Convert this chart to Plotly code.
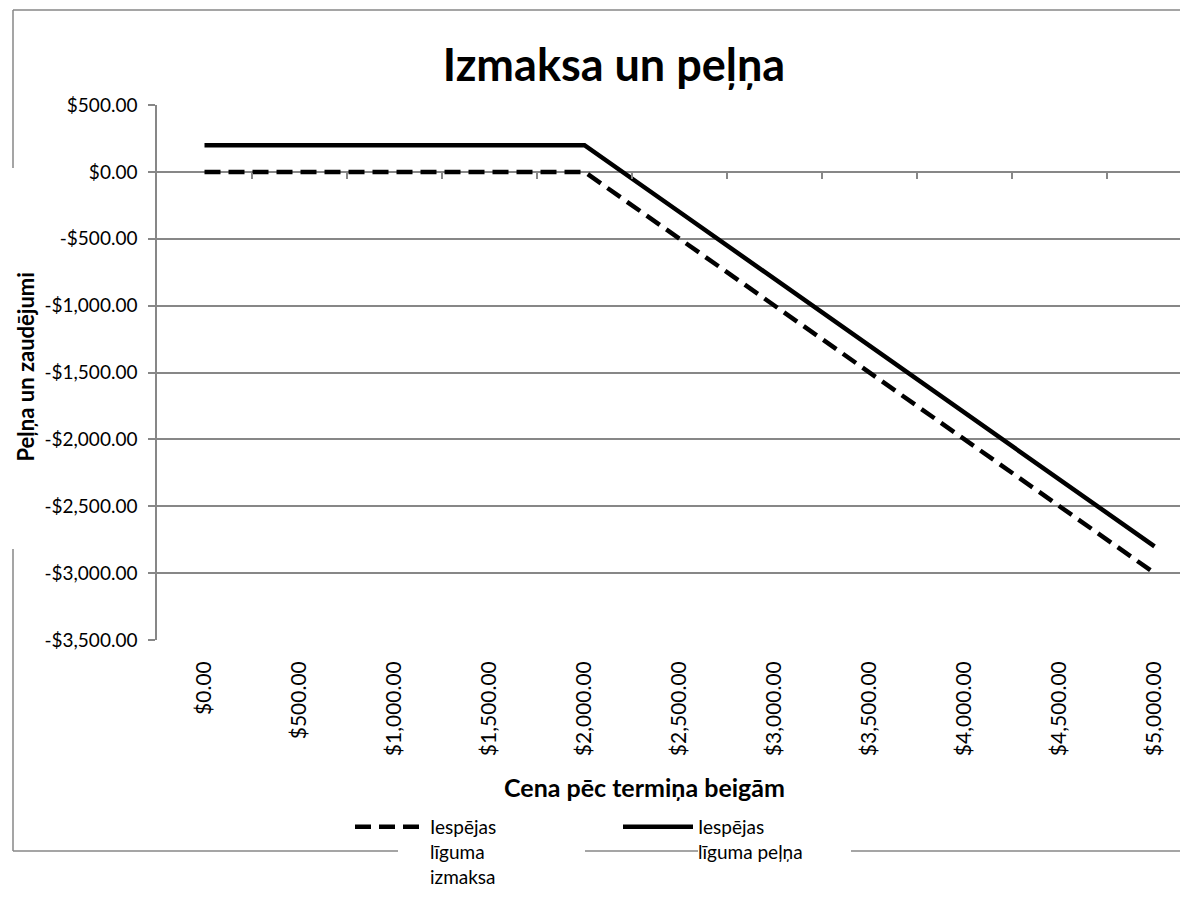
import plotly.graph_objects as go

# ---- data ----
price_labels = ["$0.00", "$500.00", "$1,000.00", "$1,500.00", "$2,000.00", "$2,500.00",
                "$3,000.00", "$3,500.00", "$4,000.00", "$4,500.00", "$5,000.00"]
option_cost = [0, 0, 0, 0, 0, -500, -1000, -1500, -2000, -2500, -3000]
option_profit = [200, 200, 200, 200, 200, -300, -800, -1300, -1800, -2300, -2800]
series_names = ["Iespējas<br>līguma<br>izmaksa", "Iespējas<br>līguma peļņa"]
y_tick_vals = [500, 0, -500, -1000, -1500, -2000, -2500, -3000, -3500]
y_tick_text = ["$500.00", "$0.00", "-$500.00", "-$1,000.00", "-$1,500.00", "-$2,000.00",
               "-$2,500.00", "-$3,000.00", "-$3,500.00"]
title_text = "Izmaksa un peļņa"
x_title = "Cena pēc termiņa beigām"
y_title = "Peļņa un zaudējumi"

W, H = 1180, 901
L, T, B = 157, 105, 640
GRAY = "#878787"
FONT = "Lato"


def px(xp):
    return (xp - L) / (W - L)


def py(yp):
    return (B - yp) / (B - T)


fig = go.Figure()
fig.add_trace(go.Scatter(x=price_labels, y=option_cost, mode="lines", name=series_names[0],
                         line=dict(color="black", width=4.5, dash="16px,8px")))
fig.add_trace(go.Scatter(x=price_labels, y=option_profit, mode="lines", name=series_names[1],
                         line=dict(color="black", width=4.5)))
# helper trace for the tick-mark axis at the zero line
fig.add_trace(go.Scatter(x=[None], y=[None], xaxis="x2", showlegend=False, hoverinfo="skip"))

n = len(price_labels)
right_idx = -0.5 + (W - L) / 95.0

fig.update_layout(
    width=W, height=H,
    margin=dict(l=L, r=0, t=T, b=H - B, pad=0),
    paper_bgcolor="white", plot_bgcolor="white",
    font=dict(family=FONT, size=19, color="black"),
    showlegend=True,
    title=dict(text="<b>" + title_text + "</b>", x=614 / W, xanchor="center",
               y=1 - 65.5 / H, yanchor="middle", font=dict(family=FONT, size=45, color="black")),
    xaxis=dict(type="category", range=[-0.5, right_idx], showgrid=False, zeroline=False,
               showline=False, ticks="", tickangle=-90, ticklabelstandoff=16,
               tickfont=dict(family=FONT, size=21)),
    xaxis2=dict(overlaying="x", anchor="free", position=3500 / 4000, range=[-0.5, right_idx],
                tickmode="array", tickvals=[i + 0.5 for i in range(n - 1)],
                ticks="outside", ticklen=6, tickwidth=1.5, tickcolor=GRAY,
                showticklabels=False, showgrid=False, zeroline=False, showline=False),
    yaxis=dict(range=[-3500, 500], tickmode="array", tickvals=y_tick_vals, ticktext=y_tick_text,
               showgrid=True, gridcolor=GRAY, gridwidth=1.5, zeroline=False,
               showline=True, linecolor=GRAY, linewidth=1.5,
               ticks="outside", ticklen=7, tickwidth=1.5, tickcolor=GRAY,
               ticklabelstandoff=7, tickfont=dict(family=FONT, size=19)),
    legend=dict(orientation="h", x=px(350), xanchor="left", y=py(808), yanchor="top",
                valign="top", entrywidth=183, entrywidthmode="pixels", itemwidth=70,
                font=dict(family=FONT, size=19, color="black"), bgcolor="rgba(0,0,0,0)",
                traceorder="normal"),
)

fig.add_annotation(text="<b>" + x_title + "</b>", xref="paper", yref="paper",
                   x=px(644.5), y=py(787), xanchor="center", yanchor="middle",
                   showarrow=False, font=dict(family=FONT, size=25, color="black"))
fig.add_annotation(text="<b>" + y_title + "</b>", xref="paper", yref="paper",
                   x=px(25), y=py(367.5), xanchor="center", yanchor="middle",
                   textangle=-90, showarrow=False, font=dict(family=FONT, size=22, color="black"))

# chart-area border pieces (pixel coordinates converted to paper)
segments = [((13, 10), (W, 10)), ((13, 10), (13, 168)), ((13, 549), (13, 851)),
            ((13, 851), (398, 851)), ((585, 851), (698, 851)), ((851, 851), (W, 851))]
for (x0, y0), (x1, y1) in segments:
    fig.add_shape(type="line", xref="paper", yref="paper", x0=px(x0), y0=py(y0), x1=px(x1), y1=py(y1),
                  line=dict(color=GRAY, width=1.5), layer="below")

fig.write_html("out.html", config={"displayModeBar": False},
               post_script="document.body.style.margin='0px';document.body.style.overflow='hidden';")
